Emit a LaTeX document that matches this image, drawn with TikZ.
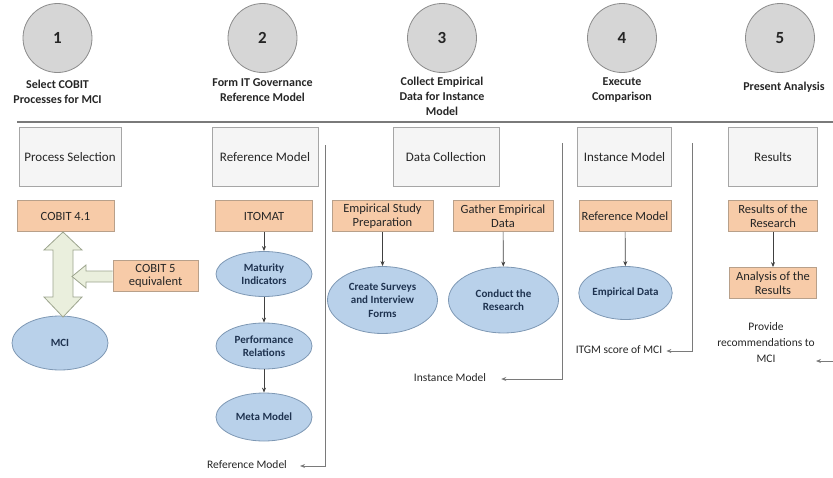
\documentclass[tikz,border=0pt]{standalone}
\usepackage{fontspec}
\setmainfont{Carlito}
\usetikzlibrary{arrows.meta,calc,shapes.geometric}
\definecolor{circfill}{HTML}{D6D6D6}
\definecolor{circdraw}{HTML}{8C8C8C}
\definecolor{boxfill}{HTML}{F5F5F5}
\definecolor{boxdraw}{HTML}{A6A6A6}
\definecolor{orfill}{HTML}{F7CBA8}
\definecolor{ordraw}{HTML}{B8A08A}
\definecolor{elfill}{HTML}{B9D1EA}
\definecolor{eldraw}{HTML}{7E98B4}
\definecolor{eltext}{HTML}{1F3350}
\definecolor{arfill}{HTML}{EAEFDD}
\definecolor{ardraw}{HTML}{9DA58E}
\definecolor{linegray}{HTML}{7A7A7A}
\definecolor{txt}{HTML}{262626}
\tikzset{
  stepcirc/.style={circle,draw=circdraw,line width=0.8pt,fill=circfill,minimum size=69pt,inner sep=0pt,font=\fontsize{17}{19}\selectfont\bfseries,text=txt},
  title/.style={align=center,font=\fontsize{12}{15}\selectfont\bfseries,text=txt},
  graybox/.style={draw=boxdraw,line width=0.8pt,fill=boxfill,minimum height=59pt,inner sep=0pt,font=\fontsize{13}{14}\selectfont,text=txt},
  orbox/.style={draw=ordraw,line width=0.8pt,fill=orfill,minimum height=31pt,inner sep=0pt,align=center,font=\fontsize{12.5}{13.5}\selectfont,text=txt},
  ell/.style={ellipse,draw=eldraw,line width=0.8pt,fill=elfill,inner sep=0pt,align=center,font=\fontsize{11}{13.5}\selectfont\bfseries,text=eltext},
  conn/.style={draw=black!75,line width=0.7pt,-{Stealth[length=5pt,width=4pt]}},
  fb/.style={draw=linegray,line width=1pt,-{Stealth[length=5pt,width=4pt]}},
  lbl/.style={align=center,font=\fontsize{11.5}{16}\selectfont,text=txt,inner sep=1pt},
}
\begin{document}
\begin{tikzpicture}[x=1pt,y=-1pt]
\useasboundingbox (0,0) rectangle (833,477);
% step circles
\node[stepcirc] (c1) at (57.5,38) {1};
\node[stepcirc] (c2) at (262.5,38) {2};
\node[stepcirc] (c3) at (442,38) {3};
\node[stepcirc] (c4) at (622,38) {4};
\node[stepcirc] (c5) at (780,38) {5};
% titles
\node[title] (t1) at (57.5,92) {Select COBIT\\Processes for MCI};
\node[title] (t2) at (262.5,90) {Form IT Governance\\Reference Model};
\node[title] (t3) at (442,96) {Collect Empirical\\Data for Instance\\Model};
\node[title] (t4) at (622,90) {Execute\\Comparison};
\node[title] (t5) at (784,87) {Present Analysis};
% rule
\coordinate (rl) at (17,122);
\coordinate (rr) at (833,122);
\draw[draw=linegray,line width=1.2pt] (rl) -- (rr);
% gray boxes
\node[graybox,minimum width=102pt] (g1) at (70,157) {Process Selection};
\node[graybox,minimum width=106pt] (g2) at (265,157) {Reference Model};
\node[graybox,minimum width=106pt] (g3) at (446,157) {Data Collection};
\node[graybox,minimum width=94pt] (g4) at (624.5,157) {Instance Model};
\node[graybox,minimum width=89pt] (g5) at (773,157) {Results};
% orange boxes
\node[orbox,minimum width=97pt] (cobit) at (65.5,216) {COBIT 4.1};
\node[orbox,minimum width=97pt] (itomat) at (264,216) {ITOMAT};
\node[orbox,minimum width=85pt] (cobit5) at (155.5,276) {COBIT 5\\equivalent};
\node[orbox,minimum width=101pt] (esp) at (382.5,216) {Empirical Study\\Preparation};
\node[orbox,minimum width=100pt] (ged) at (503,216) {Gather Empirical\\Data};
\node[orbox,minimum width=92pt] (rm4) at (625,216) {Reference Model};
\node[orbox,minimum width=89pt] (rr5) at (773,216) {Results of the\\Research};
\node[orbox,minimum width=87pt] (ar5) at (773,283) {Analysis of the\\Results};
% ellipses
\node[ell,minimum width=96pt,minimum height=54pt] (mci) at (60,343) {MCI};
\node[ell,minimum width=96pt,minimum height=45pt] (mat) at (264,274) {Maturity\\Indicators};
\node[ell,minimum width=96pt,minimum height=46pt] (perf) at (264,346) {Performance\\Relations};
\node[ell,minimum width=96pt,minimum height=48pt] (meta) at (264,417) {Meta Model};
\node[ell,minimum width=110pt,minimum height=67pt] (surv) at (382.5,300) {Create Surveys\\and Interview\\Forms};
\node[ell,minimum width=110pt,minimum height=66pt] (cond) at (503.5,300) {Conduct the\\Research};
\node[ell,minimum width=93pt,minimum height=53pt] (emp) at (625.5,293) {Empirical Data};
% connectors
\draw[conn] (itomat) -- (mat);
\draw[conn] (mat) -- (perf);
\draw[conn] (perf) -- (meta);
\draw[conn] (esp) -- (surv);
\draw[conn] (ged) -- (cond);
\draw[conn] (rm4) -- (emp);
\draw[conn] (rr5) -- (ar5);
% big double arrow and side arrow
\draw[draw=ardraw,line width=0.8pt,fill=arfill]
  (63,232) -- (82,250) -- (73,250) -- (73,297) -- (82,297) -- (63,317)
  -- (44,297) -- (53,297) -- (53,250) -- (44,250) -- cycle;
\draw[draw=ardraw,line width=0.8pt,fill=arfill]
  (cobit5.west |- 0,271) -- (86,271) -- (86,265) -- (72,276.5) -- (86,288)
  -- (86,282) -- (cobit5.west |- 0,282);
% feedback lines
\node[lbl] (o2) at (247,465) {Reference Model};
\node[lbl] (o3) at (450,378) {Instance Model};
\node[lbl] (o4) at (619,350) {ITGM score of MCI};
\node[lbl] (o5) at (766,343) {Provide\\recommendations to\\MCI};
\coordinate (f2) at (325,145);
\coordinate (f3) at (562,143);
\coordinate (f4) at (692,143);
\coordinate (f5) at (833,361);
\draw[fb] (f2) |- ($(o2.east)+(12,1)$);
\draw[fb] (f3) |- ($(o3.east)+(14,1)$);
\draw[fb] (f4) |- ($(o4.east)+(3,1)$);
\draw[fb] (f5) -- ($(f5)+(-17,0)$);
\end{tikzpicture}
\end{document}
